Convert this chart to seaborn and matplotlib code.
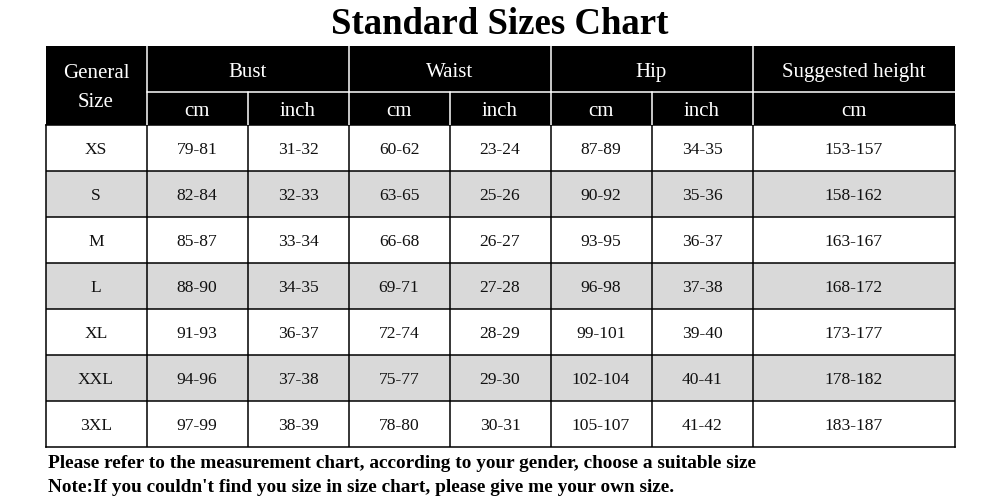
import matplotlib
matplotlib.use("Agg")
import matplotlib.pyplot as plt
from matplotlib.colors import ListedColormap
from matplotlib.patches import Rectangle
import numpy as np
import pandas as pd
import seaborn as sns

# ---- data ----
title = "Standard Sizes Chart"
groups = ["Bust", "Waist", "Hip", "Suggested height"]
units = ["cm", "inch", "cm", "inch", "cm", "inch", "cm"]
sizes = ["XS", "S", "M", "L", "XL", "XXL", "3XL"]
bust_cm = ["79-81", "82-84", "85-87", "88-90", "91-93", "94-96", "97-99"]
bust_inch = ["31-32", "32-33", "33-34", "34-35", "36-37", "37-38", "38-39"]
waist_cm = ["60-62", "63-65", "66-68", "69-71", "72-74", "75-77", "78-80"]
waist_inch = ["23-24", "25-26", "26-27", "27-28", "28-29", "29-30", "30-31"]
hip_cm = ["87-89", "90-92", "93-95", "96-98", "99-101", "102-104", "105-107"]
hip_inch = ["34-35", "35-36", "36-37", "37-38", "39-40", "40-41", "41-42"]
height_cm = ["153-157", "158-162", "163-167", "168-172", "173-177", "178-182", "183-187"]
notes = [
    "Please refer to the measurement chart, according to your gender, choose a suitable size",
    "Note:If you couldn't find you size in size chart, please give me your own size.",
]

sns.set_theme(style="white")
plt.rcParams["font.family"] = ["Liberation Serif", "DejaVu Serif"]

W, H = 1000, 504
fig = plt.figure(figsize=(W / 100, H / 100), dpi=100)
fig.patch.set_facecolor("white")

def px_axes(x0, y0, x1, y1):
    return fig.add_axes([x0 / W, 1 - y1 / H, (x1 - x0) / W, (y1 - y0) / H])

L, R = 45.5, 954.5
T_HEAD, T_BODY, B_BODY = 46, 125, 447

# ---- body via seaborn heatmap (9 unit columns; last field spans 2) ----
cols = [sizes, bust_cm, bust_inch, waist_cm, waist_inch, hip_cm, hip_inch, height_cm]
df = pd.DataFrame({i: c for i, c in enumerate(cols)})
n = len(sizes)
parity = np.tile((np.arange(n) % 2)[:, None], (1, 9))
axb = px_axes(L, T_BODY, R, B_BODY)
sns.heatmap(parity, ax=axb, cmap=ListedColormap(["#ffffff", "#d9d9d9"]),
            cbar=False, linewidths=0, xticklabels=False, yticklabels=False)
centers = [0.5, 1.5, 2.5, 3.5, 4.5, 5.5, 6.5, 8.0]
row_h = (B_BODY - T_BODY) / n
dy = 2.2 / row_h
for j, cx in enumerate(centers):
    for i in range(n):
        axb.text(cx, i + 0.5 + dy, df.iloc[i, j], ha="center", va="center",
                 fontsize=12.6, color="#111111")
lw = 1.1
for x in range(1, 8):
    axb.axvline(x, color="black", lw=lw)
for y in range(1, n):
    axb.axhline(y, color="black", lw=lw)
for s in axb.spines.values():
    s.set_visible(True)
    s.set_color("black")
    s.set_linewidth(lw)

# ---- header ----
axh = px_axes(L, T_HEAD, R, T_BODY)
axh.set_xlim(0, 9)
axh.set_ylim(T_BODY - T_HEAD, 0)
axh.axis("off")
hh = T_BODY - T_HEAD
split = 46
axh.add_patch(Rectangle((0, 0), 9, hh, color="black", lw=0))
wl = 1.1
for x in [1, 3, 5, 7]:
    axh.plot([x, x], [0, hh], color="white", lw=wl)
for x in [2, 4, 6]:
    axh.plot([x, x], [split, hh], color="white", lw=wl)
axh.plot([1, 9], [split, split], color="white", lw=wl)
hfs = 15
axh.text(0.5, 28, "General", ha="center", va="center", color="white", fontsize=hfs)
axh.text(0.5, 56.5, "Size", ha="center", va="center", color="white", fontsize=hfs)
gcenters = [2, 4, 6, 8]
for g, cx in zip(groups, gcenters):
    axh.text(cx, 26.5, g, ha="center", va="center", color="white", fontsize=hfs)
ucenters = [1.5, 2.5, 3.5, 4.5, 5.5, 6.5, 8.0]
for u, cx in zip(units, ucenters):
    axh.text(cx, 65, u, ha="center", va="center", color="white", fontsize=hfs)

# ---- title & notes ----
fig.text(0.5, 1 - 25 / H, title, ha="center", va="center", fontsize=26.5,
         fontweight="bold", color="black")
fig.text(48 / W, 1 - 463 / H, notes[0], ha="left", va="center", fontsize=13.9,
         fontweight="bold", color="black")
fig.text(48 / W, 1 - 488 / H, notes[1], ha="left", va="center", fontsize=13.9,
         fontweight="bold", color="black")

fig.savefig("out.png", dpi=100, facecolor="white")
